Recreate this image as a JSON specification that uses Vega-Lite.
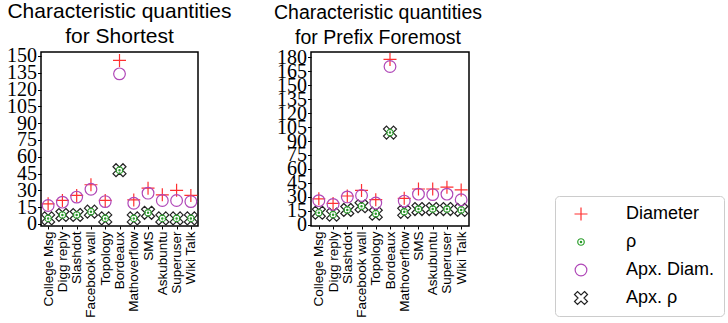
{
  "$schema": "https://vega.github.io/schema/vega-lite/v6.json",
  "padding": {"left": 5, "top": 0, "right": 0, "bottom": 0},
  "background": "white",
  "datasets": {
    "shortest": [
      {"network": "College Msg", "measure": "Apx. ρ", "value": 5},
      {"network": "College Msg", "measure": "ρ", "value": 5},
      {"network": "College Msg", "measure": "Diameter", "value": 18},
      {"network": "College Msg", "measure": "Apx. Diam.", "value": 16.5},
      {"network": "Digg reply", "measure": "Apx. ρ", "value": 8},
      {"network": "Digg reply", "measure": "ρ", "value": 8},
      {"network": "Digg reply", "measure": "Diameter", "value": 21},
      {"network": "Digg reply", "measure": "Apx. Diam.", "value": 19.5},
      {"network": "Slashdot", "measure": "Apx. ρ", "value": 8},
      {"network": "Slashdot", "measure": "ρ", "value": 8},
      {"network": "Slashdot", "measure": "Diameter", "value": 25.5},
      {"network": "Slashdot", "measure": "Apx. Diam.", "value": 24},
      {"network": "Facebook wall", "measure": "Apx. ρ", "value": 11},
      {"network": "Facebook wall", "measure": "ρ", "value": 11},
      {"network": "Facebook wall", "measure": "Diameter", "value": 35},
      {"network": "Facebook wall", "measure": "Apx. Diam.", "value": 31},
      {"network": "Topology", "measure": "Apx. ρ", "value": 5},
      {"network": "Topology", "measure": "ρ", "value": 5},
      {"network": "Topology", "measure": "Diameter", "value": 21},
      {"network": "Topology", "measure": "Apx. Diam.", "value": 20},
      {"network": "Bordeaux", "measure": "Apx. ρ", "value": 48},
      {"network": "Bordeaux", "measure": "ρ", "value": 48},
      {"network": "Bordeaux", "measure": "Diameter", "value": 146},
      {"network": "Bordeaux", "measure": "Apx. Diam.", "value": 134},
      {"network": "Mathoverflow", "measure": "Apx. ρ", "value": 5},
      {"network": "Mathoverflow", "measure": "ρ", "value": 5},
      {"network": "Mathoverflow", "measure": "Diameter", "value": 21.5},
      {"network": "Mathoverflow", "measure": "Apx. Diam.", "value": 18.5},
      {"network": "SMS", "measure": "Apx. ρ", "value": 10},
      {"network": "SMS", "measure": "ρ", "value": 10},
      {"network": "SMS", "measure": "Diameter", "value": 32},
      {"network": "SMS", "measure": "Apx. Diam.", "value": 27.5},
      {"network": "Askubuntu", "measure": "Apx. ρ", "value": 5},
      {"network": "Askubuntu", "measure": "ρ", "value": 5},
      {"network": "Askubuntu", "measure": "Diameter", "value": 26},
      {"network": "Askubuntu", "measure": "Apx. Diam.", "value": 21},
      {"network": "Superuser", "measure": "Apx. ρ", "value": 5},
      {"network": "Superuser", "measure": "ρ", "value": 5},
      {"network": "Superuser", "measure": "Diameter", "value": 30},
      {"network": "Superuser", "measure": "Apx. Diam.", "value": 21},
      {"network": "Wiki Talk", "measure": "Apx. ρ", "value": 5},
      {"network": "Wiki Talk", "measure": "ρ", "value": 5},
      {"network": "Wiki Talk", "measure": "Diameter", "value": 25.5},
      {"network": "Wiki Talk", "measure": "Apx. Diam.", "value": 20}
    ],
    "prefix": [
      {"network": "College Msg", "measure": "Apx. ρ", "value": 13},
      {"network": "College Msg", "measure": "ρ", "value": 13},
      {"network": "College Msg", "measure": "Diameter", "value": 28},
      {"network": "College Msg", "measure": "Apx. Diam.", "value": 26},
      {"network": "Digg reply", "measure": "Apx. ρ", "value": 11},
      {"network": "Digg reply", "measure": "ρ", "value": 11},
      {"network": "Digg reply", "measure": "Diameter", "value": 23},
      {"network": "Digg reply", "measure": "Apx. Diam.", "value": 22},
      {"network": "Slashdot", "measure": "Apx. ρ", "value": 16},
      {"network": "Slashdot", "measure": "ρ", "value": 16},
      {"network": "Slashdot", "measure": "Diameter", "value": 31},
      {"network": "Slashdot", "measure": "Apx. Diam.", "value": 30},
      {"network": "Facebook wall", "measure": "Apx. ρ", "value": 20},
      {"network": "Facebook wall", "measure": "ρ", "value": 20},
      {"network": "Facebook wall", "measure": "Diameter", "value": 37},
      {"network": "Facebook wall", "measure": "Apx. Diam.", "value": 31.5},
      {"network": "Topology", "measure": "Apx. ρ", "value": 12},
      {"network": "Topology", "measure": "ρ", "value": 12},
      {"network": "Topology", "measure": "Diameter", "value": 27},
      {"network": "Topology", "measure": "Apx. Diam.", "value": 23.5},
      {"network": "Bordeaux", "measure": "Apx. ρ", "value": 99},
      {"network": "Bordeaux", "measure": "ρ", "value": 99},
      {"network": "Bordeaux", "measure": "Diameter", "value": 177.5},
      {"network": "Bordeaux", "measure": "Apx. Diam.", "value": 170},
      {"network": "Mathoverflow", "measure": "Apx. ρ", "value": 14},
      {"network": "Mathoverflow", "measure": "ρ", "value": 14},
      {"network": "Mathoverflow", "measure": "Diameter", "value": 28.5},
      {"network": "Mathoverflow", "measure": "Apx. Diam.", "value": 25.5},
      {"network": "SMS", "measure": "Apx. ρ", "value": 17},
      {"network": "SMS", "measure": "ρ", "value": 17},
      {"network": "SMS", "measure": "Diameter", "value": 38.5},
      {"network": "SMS", "measure": "Apx. Diam.", "value": 33},
      {"network": "Askubuntu", "measure": "Apx. ρ", "value": 17},
      {"network": "Askubuntu", "measure": "ρ", "value": 17},
      {"network": "Askubuntu", "measure": "Diameter", "value": 38.5},
      {"network": "Askubuntu", "measure": "Apx. Diam.", "value": 32.5},
      {"network": "Superuser", "measure": "Apx. ρ", "value": 17},
      {"network": "Superuser", "measure": "ρ", "value": 17},
      {"network": "Superuser", "measure": "Diameter", "value": 40.5},
      {"network": "Superuser", "measure": "Apx. Diam.", "value": 33},
      {"network": "Wiki Talk", "measure": "Apx. ρ", "value": 16},
      {"network": "Wiki Talk", "measure": "ρ", "value": 16},
      {"network": "Wiki Talk", "measure": "Diameter", "value": 37.5},
      {"network": "Wiki Talk", "measure": "Apx. Diam.", "value": 27}
    ]
  },
  "bounds": "flush",
  "spacing": 113,
  "hconcat": [
    {
      "data": {"name": "shortest"},
      "width": 157,
      "height": 174,
      "title": {"text": ["Characteristic quantities", "for Shortest"], "fontSize": 21},
      "mark": {"type": "point", "filled": false, "fill": "transparent", "size": 169, "strokeWidth": 1.2, "opacity": 1},
      "encoding": {
        "x": {"field": "network", "type": "nominal", "sort": null, "scale": {"type": "point", "padding": 0.5}, "axis": {"title": null}},
        "y": {"field": "value", "type": "quantitative", "scale": {"domain": [-1.8, 153.5], "nice": false, "zero": false},
              "axis": {"title": null, "values": [0, 15, 30, 45, 60, 75, 90, 105, 120, 135, 150]}},
        "shape": {"field": "measure", "type": "nominal",
                  "scale": {"domain": ["Diameter", "ρ", "Apx. Diam.", "Apx. ρ"],
                            "range": [
                              "M-1,0H1M0,-1V1",
                              "M-0.5,0A0.5,0.5 0 1,0 0.5,0A0.5,0.5 0 1,0 -0.5,0M-0.1,0A0.1,0.1 0 1,0 0.1,0A0.1,0.1 0 1,0 -0.1,0",
                              "M-0.9,0A0.9,0.9 0 1,0 0.9,0A0.9,0.9 0 1,0 -0.9,0",
                              "M0.538,-1L1,-0.538L0.462,0L1,0.538L0.538,1L0,0.462L-0.538,1L-1,0.538L-0.462,0L-1,-0.538L-0.538,-1L0,-0.462Z"
                            ]}},
        "color": {"field": "measure", "type": "nominal",
                  "scale": {"domain": ["Diameter", "ρ", "Apx. Diam.", "Apx. ρ"],
                            "range": ["#ff3030", "#2a9d2a", "#b048b8", "#222222"]}}
      }
    },
    {
      "data": {"name": "prefix"},
      "width": 158,
      "height": 174,
      "title": {"text": ["Characteristic quantities", "for Prefix Foremost"], "fontSize": 19.5, "dx": -12},
      "mark": {"type": "point", "filled": false, "fill": "transparent", "size": 169, "strokeWidth": 1.2, "opacity": 1},
      "encoding": {
        "x": {"field": "network", "type": "nominal", "sort": null, "scale": {"type": "point", "padding": 0.55}, "axis": {"title": null}},
        "y": {"field": "value", "type": "quantitative", "scale": {"domain": [-1.2, 185.5], "nice": false, "zero": false},
              "axis": {"title": null, "values": [0, 15, 30, 45, 60, 75, 90, 105, 120, 135, 150, 165, 180]}},
        "shape": {"field": "measure", "type": "nominal",
                  "scale": {"domain": ["Diameter", "ρ", "Apx. Diam.", "Apx. ρ"],
                            "range": [
                              "M-1,0H1M0,-1V1",
                              "M-0.5,0A0.5,0.5 0 1,0 0.5,0A0.5,0.5 0 1,0 -0.5,0M-0.1,0A0.1,0.1 0 1,0 0.1,0A0.1,0.1 0 1,0 -0.1,0",
                              "M-0.9,0A0.9,0.9 0 1,0 0.9,0A0.9,0.9 0 1,0 -0.9,0",
                              "M0.538,-1L1,-0.538L0.462,0L1,0.538L0.538,1L0,0.462L-0.538,1L-1,0.538L-0.462,0L-1,-0.538L-0.538,-1L0,-0.462Z"
                            ]}},
        "color": {"field": "measure", "type": "nominal",
                  "scale": {"domain": ["Diameter", "ρ", "Apx. Diam.", "Apx. ρ"],
                            "range": ["#ff3030", "#2a9d2a", "#b048b8", "#222222"]}}
      }
    }
  ],
  "resolve": {"scale": {"y": "independent", "x": "independent"}},
  "config": {
    "view": {"stroke": "#000000", "strokeWidth": 1.5},
    "title": {"font": "Liberation Sans", "fontWeight": "normal", "color": "#000000", "anchor": "middle", "lineHeight": 25, "offset": -1},
    "axis": {"grid": false, "domain": false, "tickColor": "#000000", "labelColor": "#000000"},
    "axisY": {"labelFont": "Liberation Serif", "labelFontSize": 20, "tickSize": 3.5, "labelPadding": 1, "labelOverlap": false, "labelBaseline": "middle", "labelBound": false, "labelFlush": false},
    "axisX": {"labelFont": "Liberation Sans", "labelFontSize": 13.5, "labelAngle": 270, "tickSize": 3, "labelPadding": 2, "labelOverlap": false, "labelLimit": 200},
    "legend": {
      "orient": "none",
      "legendX": 514,
      "legendY": 144,
      "title": null,
      "strokeColor": "#cccccc",
      "cornerRadius": 4,
      "fillColor": "#ffffff",
      "padding": 9,
      "symbolSize": 169,
      "symbolStrokeWidth": 1.2,
      "symbolOffset": 8,
      "labelFont": "Liberation Sans",
      "labelFontSize": 18,
      "labelColor": "#000000",
      "labelOffset": 36,
      "rowPadding": 10,
      "labelLimit": 200
    }
  }
}
